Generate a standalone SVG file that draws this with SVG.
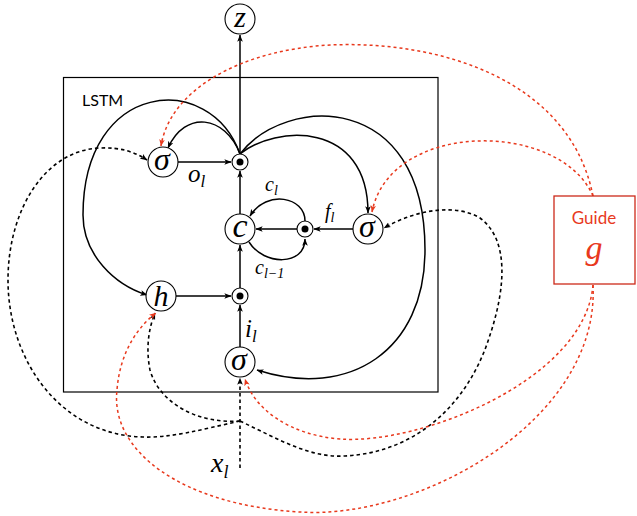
<svg xmlns="http://www.w3.org/2000/svg" width="637" height="516" viewBox="0 0 637 516">
<defs>
<style>
.n{fill:#fff;stroke:#000;stroke-width:1.1}
.m{font-family:"Liberation Serif","DejaVu Serif",serif;font-style:italic;font-weight:normal;fill:#000}
.s{fill:none;stroke:#000;stroke-width:1.5}
.d{fill:none;stroke:#000;stroke-width:1.6;stroke-dasharray:3.5 3}
.r{fill:none;stroke:#e8391d;stroke-width:1.5;stroke-dasharray:3 3}
.lbl{font-family:Lato,"Open Sans",sans-serif}
</style>
<marker id="a" viewBox="0 0 10 8" refX="9.5" refY="4" markerWidth="7" markerHeight="6" markerUnits="userSpaceOnUse" orient="auto"><path d="M0,0 L10,4 L0,8 L2.5,4 z" fill="#000"/></marker>
<marker id="ar" viewBox="0 0 10 8" refX="9.5" refY="4" markerWidth="7" markerHeight="6" markerUnits="userSpaceOnUse" orient="auto"><path d="M0,0 L10,4 L0,8 L2.5,4 z" fill="#e8391d"/></marker>
</defs>
<rect width="637" height="516" fill="#fff"/>
<g id="lstm-box">
<rect x="63.5" y="77.5" width="374.5" height="314.5" fill="none" stroke="#000" stroke-width="1.2"/>
<text x="82" y="106" class="lbl" font-size="16">LSTM</text>
</g>
<g id="connectors">
<line class="s" x1="240" y1="154" x2="240" y2="35" marker-end="url(#a)"/>
<line class="s" x1="178" y1="162" x2="231" y2="162" marker-end="url(#a)"/>
<line class="s" x1="240" y1="214" x2="240" y2="171" marker-end="url(#a)"/>
<line class="s" x1="297" y1="229" x2="256" y2="229" marker-end="url(#a)"/>
<line class="s" x1="353" y1="229" x2="314" y2="229" marker-end="url(#a)"/>
<path class="s" d="M305,221 C305,197 267,189 250,216" marker-end="url(#a)"/>
<path class="s" d="M249,242 C264,266 305,266 305,239" marker-end="url(#a)"/>
<line class="s" x1="176" y1="296" x2="231" y2="296" marker-end="url(#a)"/>
<line class="s" x1="240" y1="347" x2="240" y2="305" marker-end="url(#a)"/>
<line class="s" x1="240" y1="288" x2="240" y2="245" marker-end="url(#a)"/>
<path class="s" d="M240,154 C225,115 185,110 168,148" marker-end="url(#a)"/>
<path class="s" d="M240,154 C210,70 83,80 83,215 C83,255 115,285 147,295" marker-end="url(#a)"/>
<path class="s" d="M240,154 C275,125 368,120 368,213" marker-end="url(#a)"/>
<path class="s" d="M240,154 C285,95 425,90 425,250 C425,350 350,400 257,370" marker-end="url(#a)"/>
<line class="d" x1="240" y1="468" x2="240" y2="378" marker-end="url(#a)"/>
<path class="d" d="M240,421 C200,430 170,438 143,437 C60,435 8,360 8,280 C8,210 45,150 100,148 C120,147 135,152 147,160" marker-end="url(#a)"/>
<path class="d" d="M240,421 C200,424 160,405 150,370 C146,350 148,330 155,313" marker-end="url(#a)"/>
<path class="d" d="M240,421 C280,440 310,458 345,456 C420,452 470,400 490,335 C505,290 510,240 480,218 C455,203 415,210 384,228" marker-end="url(#a)"/>
<path class="r" d="M593,196 C570,80 440,40 330,45 C240,50 170,90 161,146" marker-end="url(#ar)"/>
<path class="r" d="M593,196 C560,120 390,120 372,212" marker-end="url(#ar)"/>
<path class="r" d="M593,285 C585,380 420,445 340,439 C290,435 255,410 245,379" marker-end="url(#ar)"/>
<path class="r" d="M593,285 C600,420 420,520 300,512 C180,505 110,450 117,390 C120,350 140,325 156,313" marker-end="url(#ar)"/>
</g>
<g id="z"><circle class="n" cx="240" cy="19" r="15"/><text class="m" x="240" y="27" font-size="30" text-anchor="middle">z</text></g>
<g id="sigma-o"><circle class="n" cx="163" cy="162" r="15"/><text class="m" x="162" y="170" font-size="32" text-anchor="middle">σ</text></g>
<g id="odot-o"><circle class="n" cx="240" cy="162" r="8"/><circle cx="240" cy="162" r="3.5"/></g>
<g id="label-o"><text class="m" x="188" y="182" font-size="25">o<tspan font-size="17" dy="5">l</tspan></text></g>
<g id="c"><circle class="n" cx="240" cy="229" r="15"/><text class="m" x="240" y="237" font-size="34" text-anchor="middle">c</text></g>
<g id="odot-f"><circle class="n" cx="305" cy="229" r="8"/><circle cx="305" cy="229" r="3.5"/></g>
<g id="sigma-f"><circle class="n" cx="368" cy="229" r="15"/><text class="m" x="367" y="237" font-size="32" text-anchor="middle">σ</text></g>
<g id="label-f"><text class="m" x="325" y="218" font-size="20">f<tspan font-size="14" dy="4">l</tspan></text></g>
<g id="label-cl"><text class="m" x="265" y="191" font-size="20">c<tspan font-size="14" dy="4">l</tspan></text></g>
<g id="label-cl1"><text class="m" x="255" y="274" font-size="20">c<tspan font-size="14" dy="4">l−1</tspan></text></g>
<g id="h"><circle class="n" cx="161" cy="296" r="15"/><text class="m" x="161" y="306" font-size="30" text-anchor="middle">h</text></g>
<g id="odot-i"><circle class="n" cx="240" cy="296" r="8"/><circle cx="240" cy="296" r="3.5"/></g>
<g id="label-i"><text class="m" x="245" y="337" font-size="25">i<tspan font-size="17" dy="5">l</tspan></text></g>
<g id="sigma-i"><circle class="n" cx="240" cy="362" r="15"/><text class="m" x="239" y="370" font-size="32" text-anchor="middle">σ</text></g>
<g id="x"><text class="m" x="211" y="472" font-size="28">x<tspan font-size="18" dy="6">l</tspan></text></g>
<g id="guide">
<rect x="554" y="196" width="81" height="88" fill="#fff" stroke="#cc2a1a" stroke-width="1.3"/>
<text x="594" y="224" class="lbl" font-size="17" fill="#e8391d" text-anchor="middle">Guide</text>
<text x="594" y="259" class="m" font-size="34" style="fill:#e8391d" text-anchor="middle">g</text>
</g>
</svg>
